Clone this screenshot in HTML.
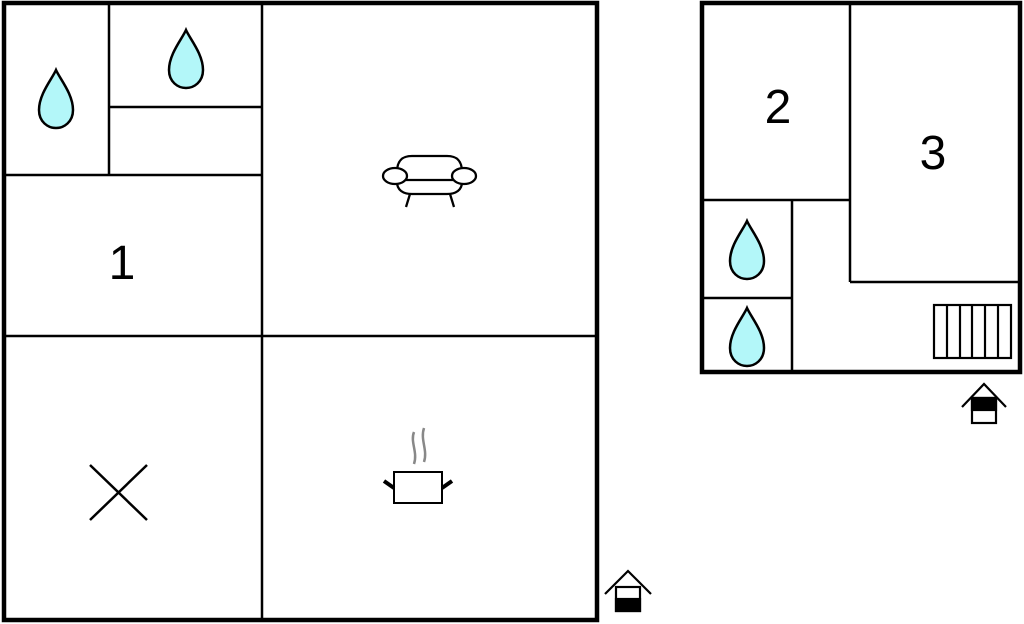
<!DOCTYPE html>
<html><head><meta charset="utf-8"><style>
html,body{margin:0;padding:0;background:#fff;}
svg{display:block;}
text{font-family:"Liberation Sans",sans-serif;font-size:48px;fill:#000;}
</style></head><body>
<svg width="1024" height="624" viewBox="0 0 1024 624" xmlns="http://www.w3.org/2000/svg">
<defs>
<path id="drop" d="M0,0 C-4,9 -17,24 -17,40 C-17,52 -8,58 0,58 C8,58 17,52 17,40 C17,24 4,9 0,0Z" fill="#b3f7f9" stroke="#000" stroke-width="2.5"/>
</defs>
<g stroke="#000" fill="none">
<rect x="4" y="3" width="593" height="617" stroke-width="4.5"/>
<g stroke-width="2.5">
<line x1="262" y1="3" x2="262" y2="620"/>
<line x1="4" y1="336" x2="597" y2="336"/>
<line x1="4" y1="175" x2="262" y2="175"/>
<line x1="109" y1="3" x2="109" y2="175"/>
<line x1="109" y1="107" x2="262" y2="107"/>
</g>
<rect x="702" y="3" width="318" height="369" stroke-width="4.5"/>
<g stroke-width="2.5">
<line x1="702" y1="200" x2="850" y2="200"/>
<line x1="850" y1="3" x2="850" y2="282"/>
<line x1="850" y1="282" x2="1020" y2="282"/>
<line x1="792" y1="200" x2="792" y2="372"/>
<line x1="702" y1="298" x2="792" y2="298"/>
</g>
<!-- cross -->
<g stroke-width="2.5"><line x1="90" y1="465" x2="147" y2="520"/><line x1="147" y1="465" x2="90" y2="520"/></g>
<!-- stairs -->
<g stroke-width="2.2">
<rect x="934" y="305" width="77" height="53"/>
<line x1="947" y1="305" x2="947" y2="358"/><line x1="960" y1="305" x2="960" y2="358"/>
<line x1="972" y1="305" x2="972" y2="358"/><line x1="985" y1="305" x2="985" y2="358"/>
<line x1="998" y1="305" x2="998" y2="358"/>
</g>
<!-- sofa -->
<g stroke-width="2.3" fill="#fff">
<path d="M397,172 C397,158 405,156 412,156 L447,156 C454,156 462,158 462,172 L462,182 C462,190 456,194 447,194 L412,194 C403,194 397,190 397,182Z"/>
<line x1="405" y1="180" x2="455" y2="180"/>
<ellipse cx="395" cy="176" rx="12" ry="8"/>
<ellipse cx="464" cy="176" rx="12" ry="8"/>
<line x1="410" y1="194" x2="406" y2="207"/><line x1="450" y1="194" x2="454" y2="207"/>
</g>
<!-- pot -->
<g>
<path d="M414,432 C410,442 418,452 414,464" stroke="#888" stroke-width="2.5"/>
<path d="M424,428 C420,440 428,450 424,462" stroke="#888" stroke-width="2.5"/>
<rect x="394" y="472" width="48" height="31" stroke-width="2" fill="#fff"/>
<line x1="384" y1="481" x2="394" y2="488" stroke-width="4"/>
<line x1="452" y1="481" x2="442" y2="488" stroke-width="4"/>
</g>
<!-- entrances -->
<g stroke-width="2.2">
<polyline points="605,594 628,571 651,594"/>
<rect x="616" y="587" width="24" height="24" fill="#fff"/>
<rect x="616" y="599" width="24" height="12" fill="#000"/>
<polyline points="962,407 984,384 1006,407"/>
<rect x="972" y="398" width="24" height="25" fill="#fff"/>
<rect x="972" y="398" width="24" height="12" fill="#000"/>
</g>
</g>
<use href="#drop" x="56" y="70"/>
<use href="#drop" x="186" y="30"/>
<use href="#drop" x="747" y="221"/>
<use href="#drop" x="747" y="308"/>
<text x="122" y="279" text-anchor="middle">1</text>
<text x="778" y="123" text-anchor="middle">2</text>
<text x="933" y="169" text-anchor="middle">3</text>
</svg>
</body></html>
